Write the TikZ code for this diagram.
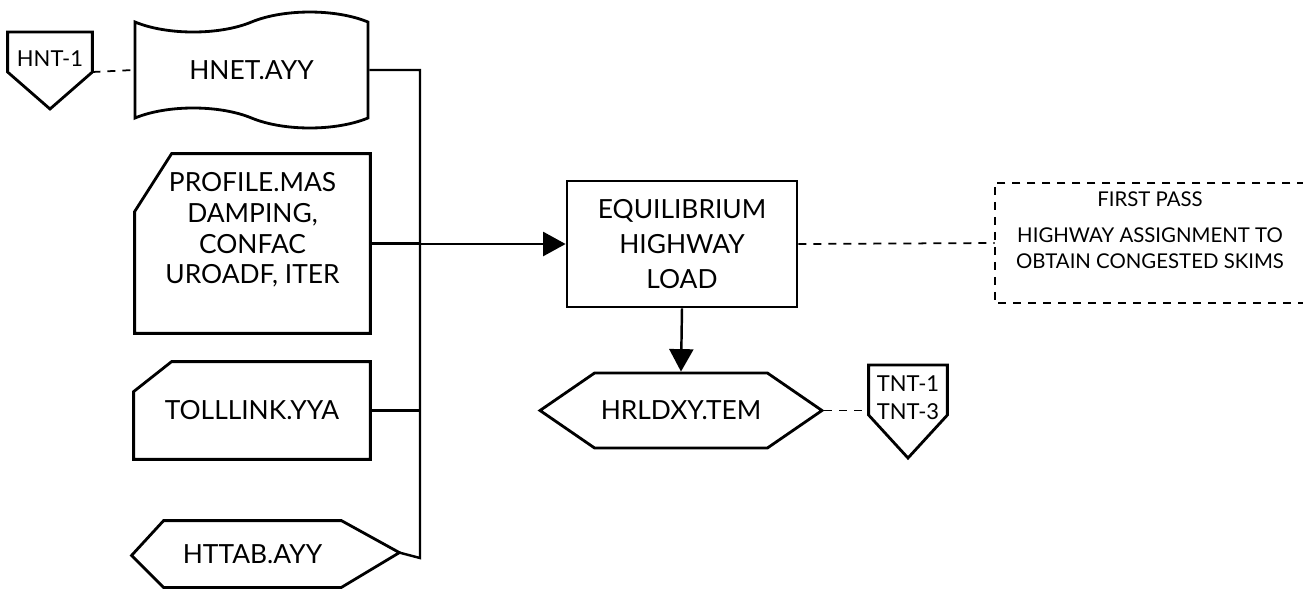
\documentclass[tikz,border=0pt]{standalone}
\usepackage{fontspec}
\setmainfont{Lato}
\usepackage{tikz}
\usetikzlibrary{calc, positioning, arrows.meta, shapes.symbols}
\newcommand{\boxfont}{\fontsize{15}{20}\selectfont}
\newcommand{\tagfont}{\fontsize{12.5}{16}\selectfont}
\tikzset{
  box/.style    = {draw=black, line width=1.6pt, fill=white, align=center,
                   font=\boxfont, inner sep=2pt},
  bare/.style   = {box, draw=none, fill=none},
  outline/.style= {draw=black, line width=1.6pt, line join=miter},
  tapebox/.style= {box, tape, tape bend top=in and out, tape bend bottom=out and in,
                   tape bend height=0.4cm},
  hexbox/.style = {box, signal, signal to=west and east, signal pointer angle=69},
  tag/.style    = {bare, font=\tagfont, anchor=north},
  note/.style   = {align=center, font=\fontsize{11.6}{14.5}\selectfont, inner sep=0pt},
  ln/.style     = {draw=black, line width=1.4pt},
  ar/.style     = {ln, -{Triangle[length=0.45cm, width=0.48cm]}},
  dl/.style     = {draw=black, line width=1pt, dash pattern=on 0.16cm off 0.14cm}
}

\begin{document}
\begin{tikzpicture}[x=0.02cm, y=0.02cm]
  \useasboundingbox (0,0) rectangle (1303,-596);

  % --- input files (left column)
  \node[tapebox, minimum width=4.66cm, minimum height=2.32cm] (hnet) at (251.5,-70) {HNET.AYY};

  \node[bare, minimum width=4.66cm, minimum height=3.54cm,
        font=\fontsize{15}{17.6}\selectfont] (profile) at (252.5,-243.5)
       {PROFILE.MAS\\DAMPING,\\CONFAC\\UROADF, ITER\\ \mbox{}};
  \draw[outline] (profile.north east) -- (profile.south east) -- (profile.south west)
    -- ($(profile.north west)+(0,-58)$) -- ($(profile.north west)+(37,0)$) -- cycle;

  \node[bare, minimum width=4.68cm, minimum height=1.9cm] (toll) at (252,-410.5) {TOLLLINK.YYA};
  \draw[outline] (toll.north east) -- (toll.south east) -- (toll.south west)
    -- ($(toll.north west)+(0,-30)$) -- ($(toll.north west)+(38,0)$) -- cycle;

  \node[bare, minimum width=3.5cm, minimum height=1.28cm] (httab) at (252.5,-554) {HTTAB.AYY};
  \draw[outline] (httab.north west) -- (httab.north east) -- ++(58,-32) coordinate (httabR)
    -- (httab.south east) -- (httab.south west) -- ++(-32,32) -- cycle;

  % --- page references
  \node[tag, minimum width=1.64cm, minimum height=1.0cm] (hnt) at (50,-32) {HNT-1};
  \draw[outline] (hnt.north west) -- (hnt.north east) -- ++(0,-40) coordinate (hntR)
    -- ($(hnt.north)+(0,-77)$) -- ($(hnt.north west)+(0,-40)$) -- cycle;
  \node[tag, minimum width=1.52cm, minimum height=1.24cm] (tnt) at (908,-365) {TNT-1\\TNT-3};
  \draw[outline] (tnt.north west) -- (tnt.north east) -- ++(0,-50)
    -- ($(tnt.north)+(0,-93)$) -- ($(tnt.north west)+(0,-50)$) -- cycle;

  % --- process and output
  \node[box, minimum width=4.6cm, minimum height=2.52cm] (equil) at (682,-244)
       {EQUILIBRIUM\\HIGHWAY\\LOAD};
  \node[hexbox, minimum width=5.64cm, minimum height=1.5cm] (hrldxy) at (681,-410.5) {HRLDXY.TEM};

  % --- comment (open to the right)
  \node[note, minimum width=6.2cm, minimum height=2.4cm] (pass) at (1150,-243)
       {FIRST PASS\\[6pt]HIGHWAY ASSIGNMENT TO\\OBTAIN CONGESTED SKIMS\\ \mbox{}};
  \draw[dl] (pass.north east) -- (pass.north west) -- (pass.south west) -- (pass.south east);

  % --- collector bus
  \coordinate (busTop) at (420,-70);
  \coordinate (busBot) at (420,-558);
  \draw[ln] (hnet.east) -- (busTop) -- (busBot) -- (httabR);
  \draw[ln] (profile.east) -- (profile.east -| busTop);
  \draw[ln] (toll.east) -- (toll.east -| busTop);
  \draw[ar] (equil.west -| busTop) -- (equil.west);
  \draw[ar] (equil.south) -- (hrldxy.north);

  % --- dashed links
  \draw[dl] (hntR) -- (hnet.west);
  \draw[dl] (hrldxy.east) -- (hrldxy.east -| tnt.west);
  \draw[dl] (equil.east) -- (pass.west);
\end{tikzpicture}
\end{document}
